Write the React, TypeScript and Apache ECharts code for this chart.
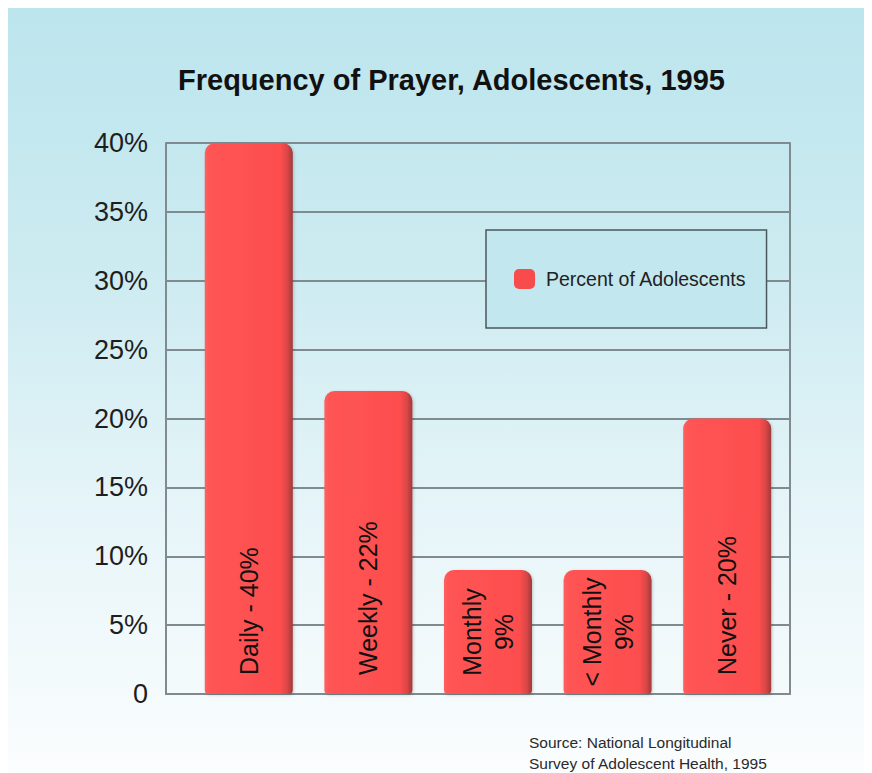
import React, { useEffect, useRef } from "react";
import * as echarts from "echarts";

const categories = ["Daily", "Weekly", "Monthly", "< Monthly", "Never"];
const values = [40, 22, 9, 9, 20];
const barLabels = ["Daily - 40%", "Weekly - 22%", "Monthly\n9%", "< Monthly\n9%", "Never - 20%"];
const seriesName = "Percent of Adolescents";
const titleText = "Frequency of Prayer, Adolescents, 1995";
const sourceLines = ["Source: National Longitudinal", "Survey of Adolescent Health, 1995"];
const yMin = 0;
const yMax = 40;
const yStep = 5;

const FONT = "'Liberation Sans', Arial, Helvetica, sans-serif";

export default function App() {
  const ref = useRef<HTMLDivElement>(null);
  useEffect(() => {
    document.body.style.overflow = "hidden";
    if (!ref.current) return;
    const chart = echarts.init(ref.current, null, { renderer: "svg" });
    const gridLine = "#7f8b8f";
    const barGradient = new echarts.graphic.LinearGradient(0, 0, 1, 0, [
      { offset: 0, color: "#ff5e5e" },
      { offset: 0.06, color: "#ff5454" },
      { offset: 0.86, color: "#fd4e4e" },
      { offset: 0.94, color: "#d94646" },
      { offset: 1, color: "#9e3a3a" },
    ]);
    const data = values.map((v, i) => {
      const twoLine = barLabels[i].includes("\n");
      return {
        value: v,
        label: twoLine
          ? { position: "inside", align: "center", verticalAlign: "middle", rotate: 90, lineHeight: 32 }
          : { position: "insideBottom", distance: 19, align: "left", verticalAlign: "middle", rotate: 90 },
      };
    });
    chart.setOption({
      animation: false,
      textStyle: { fontFamily: FONT },
      title: {
        text: titleText,
        left: 165,
        top: 52,
        textStyle: { fontFamily: FONT, fontSize: 29, fontWeight: "bold", color: "#111" },
      },
      legend: {
        left: 478,
        top: 222,
        orient: "vertical",
        padding: [39, 20, 39, 28],
        backgroundColor: "#c3e7ee",
        borderColor: "#4b585c",
        borderWidth: 1.5,
        itemWidth: 21,
        itemHeight: 20,
        itemGap: 0,
        icon: "roundRect",
        textStyle: { fontFamily: FONT, fontSize: 19.5, color: "#222", padding: [0, 0, 0, 6] },
        data: [{ name: seriesName, itemStyle: { color: "#f84b4b" } }],
      },
      grid: [
        { left: 158, width: 624, top: 135, height: 551 },
        { left: 181, width: 598, top: 135, height: 551 },
      ],
      xAxis: [
        {
          gridIndex: 0,
          type: "value",
          min: 0,
          max: 1,
          axisLine: { show: true, lineStyle: { color: gridLine, width: 2 } },
          axisTick: { show: false },
          axisLabel: { show: false },
          splitLine: { show: false },
        },
        {
          gridIndex: 1,
          type: "category",
          data: categories,
          show: false,
        },
      ],
      yAxis: [
        {
          gridIndex: 0,
          type: "value",
          min: yMin,
          max: yMax,
          interval: yStep,
          axisLine: { show: true, lineStyle: { color: gridLine, width: 2 } },
          axisTick: { show: false },
          axisLabel: {
            fontFamily: FONT,
            fontSize: 27,
            color: "#1e1e1e",
            margin: 18,
            formatter: (v: number) => (v === 0 ? "0" : v + "%"),
          },
          splitLine: { show: true, lineStyle: { color: gridLine, width: 2 } },
        },
        {
          gridIndex: 0,
          type: "value",
          position: "right",
          min: yMin,
          max: yMax,
          interval: yStep,
          axisLine: { show: true, lineStyle: { color: gridLine, width: 2 } },
          axisTick: { show: false },
          axisLabel: { show: false },
          splitLine: { show: false },
        },
        {
          gridIndex: 1,
          type: "value",
          min: yMin,
          max: yMax,
          interval: yStep,
          show: false,
          splitLine: { show: false },
        },
      ],
      series: [
        {
          name: seriesName,
          type: "bar",
          xAxisIndex: 1,
          yAxisIndex: 2,
          barWidth: 88,
          data,
          itemStyle: {
            color: barGradient,
            borderRadius: [10, 10, 4, 4],
            shadowBlur: 3,
            shadowColor: "rgba(0,0,0,0.2)",
            shadowOffsetX: 1,
            shadowOffsetY: 1,
          },
          label: {
            show: true,
            fontFamily: FONT,
            fontSize: 25,
            color: "#111",
            formatter: (p: any) => barLabels[p.dataIndex],
          },
        },
      ],
      graphic: [
        {
          type: "text",
          left: 521,
          top: 724,
          style: {
            text: sourceLines.join("\n"),
            fontFamily: FONT,
            fontSize: 15.5,
            lineHeight: 21,
            fill: "#2a2a2a",
          },
        },
      ],
    });
    return () => chart.dispose();
  }, []);
  return (
    <div
      ref={ref}
      style={{
        width: 864,
        height: 765,
        background: "linear-gradient(to bottom, #bce5ed 0%, #cdebf1 35%, #e9f6f9 70%, #fbfdfe 100%)",
      }}
    />
  );
}
